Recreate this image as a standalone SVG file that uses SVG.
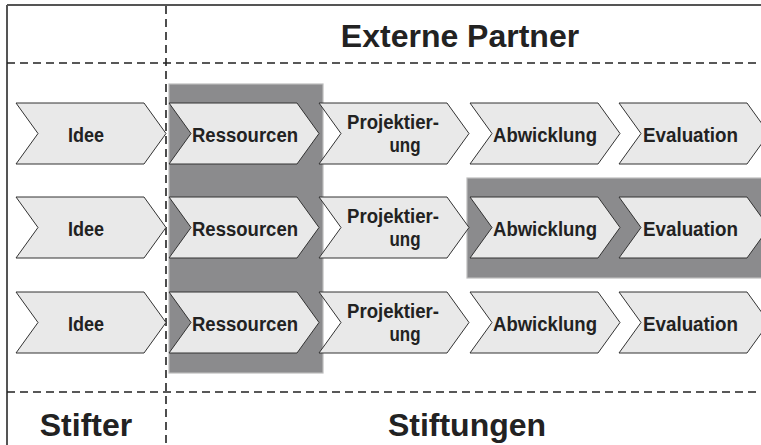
<svg xmlns="http://www.w3.org/2000/svg" width="761" height="445" viewBox="0 0 761 445">
<defs>
<style>
.bg{fill:#fff}
.frame{stroke:#555;stroke-width:2;fill:none}
.dash{stroke:#222;stroke-width:1.6;stroke-dasharray:8 5;fill:none}
.hl{fill:#8b8b8d;stroke:#bdbdbd;stroke-width:1.2}
.chev{fill:#e9e9e9;stroke:#333;stroke-width:1}
.lbl{font-family:"Liberation Sans",Arial,sans-serif;font-weight:bold;font-size:20px;fill:#222;text-anchor:middle}
.title{font-family:"Liberation Sans",Arial,sans-serif;font-weight:bold;font-size:32px;fill:#222;text-anchor:middle}
</style>
<polygon id="chv" points="0,0 128,0 150,30.5 128,61 0,61 22,30.5"/>
</defs>
<rect class="bg" x="0" y="0" width="761" height="445"/>
<g id="frame">
<line class="frame" x1="7" y1="5" x2="761" y2="5"/>
<line class="frame" x1="7" y1="5" x2="7" y2="445"/>
</g>
<g id="dividers">
<line class="dash" x1="7" y1="63" x2="761" y2="63"/>
<line class="dash" x1="7" y1="392" x2="761" y2="392"/>
<line class="dash" x1="166" y1="6" x2="166" y2="445"/>
</g>
<g id="titles">
<text id="externe" class="title" x="460" y="47">Externe Partner</text>
<text id="stifter" class="title" x="86" y="436">Stifter</text>
<text id="stiftungen" class="title" x="467" y="436">Stiftungen</text>
</g>
<g id="highlights">
<rect class="hl" x="169" y="84" width="154" height="289"/>
<rect class="hl" x="467" y="178" width="296" height="100"/>
</g>
<g id="row1">
<g id="r1-idee"><use href="#chv" class="chev" x="16" y="103"/><text class="lbl" x="86" y="141.7" textLength="36" lengthAdjust="spacingAndGlyphs">Idee</text></g>
<g id="r1-ress"><use href="#chv" class="chev" x="169" y="103"/><text class="lbl" x="245" y="141.7" textLength="106" lengthAdjust="spacingAndGlyphs">Ressourcen</text></g>
<g id="r1-proj"><use href="#chv" class="chev" x="319" y="103"/><text class="lbl" x="393" y="128.5" textLength="92" lengthAdjust="spacingAndGlyphs">Projektier-</text><text class="lbl" x="405" y="152" textLength="31" lengthAdjust="spacingAndGlyphs">ung</text></g>
<g id="r1-abw"><use href="#chv" class="chev" x="470" y="103"/><text class="lbl" x="545" y="141.7" textLength="104" lengthAdjust="spacingAndGlyphs">Abwicklung</text></g>
<g id="r1-eval"><use href="#chv" class="chev" x="619" y="103"/><text class="lbl" x="690.5" y="141.7" textLength="95" lengthAdjust="spacingAndGlyphs">Evaluation</text></g>
</g>
<g id="row2">
<g id="r2-idee"><use href="#chv" class="chev" x="16" y="197"/><text class="lbl" x="86" y="235.7" textLength="36" lengthAdjust="spacingAndGlyphs">Idee</text></g>
<g id="r2-ress"><use href="#chv" class="chev" x="169" y="197"/><text class="lbl" x="245" y="235.7" textLength="106" lengthAdjust="spacingAndGlyphs">Ressourcen</text></g>
<g id="r2-proj"><use href="#chv" class="chev" x="319" y="197"/><text class="lbl" x="393" y="222.5" textLength="92" lengthAdjust="spacingAndGlyphs">Projektier-</text><text class="lbl" x="405" y="246" textLength="31" lengthAdjust="spacingAndGlyphs">ung</text></g>
<g id="r2-abw"><use href="#chv" class="chev" x="470" y="197"/><text class="lbl" x="545" y="235.7" textLength="104" lengthAdjust="spacingAndGlyphs">Abwicklung</text></g>
<g id="r2-eval"><use href="#chv" class="chev" x="619" y="197"/><text class="lbl" x="690.5" y="235.7" textLength="95" lengthAdjust="spacingAndGlyphs">Evaluation</text></g>
</g>
<g id="row3">
<g id="r3-idee"><use href="#chv" class="chev" x="16" y="292"/><text class="lbl" x="86" y="330.7" textLength="36" lengthAdjust="spacingAndGlyphs">Idee</text></g>
<g id="r3-ress"><use href="#chv" class="chev" x="169" y="292"/><text class="lbl" x="245" y="330.7" textLength="106" lengthAdjust="spacingAndGlyphs">Ressourcen</text></g>
<g id="r3-proj"><use href="#chv" class="chev" x="319" y="292"/><text class="lbl" x="393" y="317.5" textLength="92" lengthAdjust="spacingAndGlyphs">Projektier-</text><text class="lbl" x="405" y="341" textLength="31" lengthAdjust="spacingAndGlyphs">ung</text></g>
<g id="r3-abw"><use href="#chv" class="chev" x="470" y="292"/><text class="lbl" x="545" y="330.7" textLength="104" lengthAdjust="spacingAndGlyphs">Abwicklung</text></g>
<g id="r3-eval"><use href="#chv" class="chev" x="619" y="292"/><text class="lbl" x="690.5" y="330.7" textLength="95" lengthAdjust="spacingAndGlyphs">Evaluation</text></g>
</g>
<g id="connectors"/>
</svg>
